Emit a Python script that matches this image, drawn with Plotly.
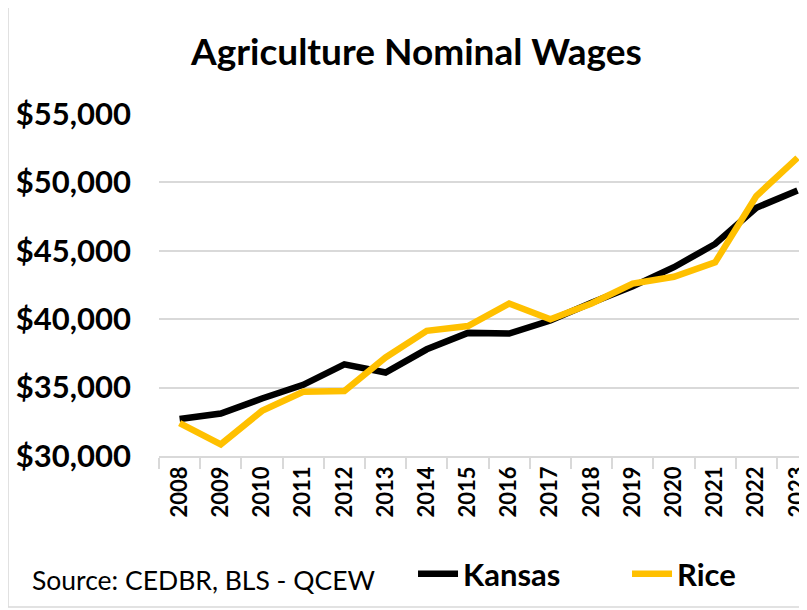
import plotly.graph_objects as go

years = [str(y) for y in range(2008, 2024)]
kansas = [32700, 33100, 34200, 35200, 36700, 36100, 37800, 39000, 38950, 39900,
          41200, 42400, 43800, 45500, 48150, 49400]
rice = [32400, 30850, 33300, 34700, 34750, 37200, 39150, 39500, 41150, 40000,
        41150, 42600, 43100, 44150, 49000, 51800]
y_ticks = [30000, 35000, 40000, 45000, 50000, 55000]
y_tick_labels = ["$30,000", "$35,000", "$40,000", "$45,000", "$50,000", "$55,000"]

FONT = "Lato"
fig = go.Figure()
fig.add_trace(go.Scatter(x=years, y=kansas, mode="lines", name="Kansas",
                         line=dict(color="#000000", width=6.5)))
fig.add_trace(go.Scatter(x=years, y=rice, mode="lines", name="Rice",
                         line=dict(color="#FFC000", width=6.5)))

fig.update_layout(
    width=799, height=602,
    margin=dict(l=151, r=0, t=106, b=154, autoexpand=False),
    paper_bgcolor="white", plot_bgcolor="white",
    font=dict(family=FONT, color="#000000"),
    showlegend=True,
    legend=dict(orientation="h", x=0.392, y=-0.345, xanchor="left", yanchor="middle",
                font=dict(family=FONT, size=31, weight="bold"),
                entrywidth=159, entrywidthmode="pixels",
                itemwidth=40, bgcolor="rgba(0,0,0,0)"),
    xaxis=dict(type="category", range=[-0.5, 15.23],
               showgrid=False, showline=True, linecolor="#d9d9d9", linewidth=1.5,
               ticks="outside", tickson="boundaries", ticklen=11, tickcolor="#d9d9d9",
               tickwidth=1.5, tickangle=-90,
               tickfont=dict(family=FONT, size=22, weight="bold", color="#000000")),
    yaxis=dict(range=[30000, 55000], tickvals=y_ticks, ticktext=y_tick_labels,
               showgrid=True, gridcolor="#d9d9d9", gridwidth=1.5, zeroline=False,
               showline=False, ticks="", ticklabelstandoff=27,
               tickfont=dict(family=FONT, size=31, weight="bold", color="#000000")),
)

fig.add_annotation(text="Agriculture Nominal Wages", xref="paper", yref="paper",
                   x=0.3966, y=1.187, xanchor="center", yanchor="middle", showarrow=False,
                   font=dict(family=FONT, size=37, weight="bold", color="#000000"))
fig.add_annotation(text="Source: CEDBR, BLS - QCEW", xref="paper", yref="paper",
                   x=-0.199, y=-0.3626, xanchor="left", yanchor="middle", showarrow=False,
                   font=dict(family=FONT, size=26.5, color="#000000"))
fig.add_shape(type="rect", xref="paper", yref="paper",
              x0=-0.233, x1=1.2, y0=-0.4415, y1=1.3216,
              line=dict(color="#d9d9d9", width=1.5), layer="below")

fig.write_html("out.html")
